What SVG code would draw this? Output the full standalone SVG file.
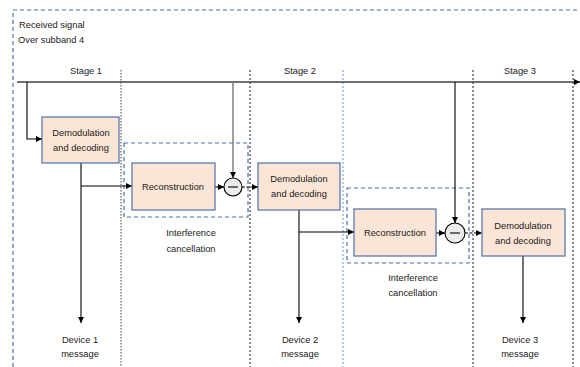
<svg xmlns="http://www.w3.org/2000/svg" width="580" height="367" viewBox="0 0 580 367">
<defs>
<marker id="ah" viewBox="0 0 10 10" refX="10" refY="5" markerWidth="6" markerHeight="6" markerUnits="userSpaceOnUse" orient="auto">
<path d="M0,0 L10,5 L0,10 z" fill="#000"/>
</marker>
<marker id="ahg" viewBox="0 0 10 10" refX="10" refY="5" markerWidth="6" markerHeight="6" markerUnits="userSpaceOnUse" orient="auto">
<path d="M0,0 L10,5 L0,10 z" fill="#000"/>
</marker>
</defs>
<style>
text{font-family:"Liberation Sans",Arial,sans-serif;font-size:9.3px;fill:#1a1a1a;}
.c{text-anchor:middle;}
.box{fill:#fbe5d6;stroke:#4f6fa8;stroke-width:1.2;}
.dbox{fill:none;stroke:#4f6fa8;stroke-width:1.2;stroke-dasharray:4,3;}
.vdot{stroke:#000;stroke-width:0.9;stroke-dasharray:2,2;fill:none;}
.vgray{stroke:#777;stroke-width:1.4;stroke-dasharray:1.5,1.5;fill:none;}
.vblue{stroke:#6f8fc4;stroke-width:1;stroke-dasharray:2,2;fill:none;}
.ln{stroke:#000;stroke-width:1.1;fill:none;}
.minus{fill:#ececec;stroke:#000;stroke-width:1.1;}
</style>
<rect width="580" height="367" fill="#fff"/>
<g id="frame">
<path d="M13,367 L13,10 L580,10" class="dbox"/>
</g>
<g id="labels">
<text x="19" y="28">Received signal</text>
<text x="18" y="43">Over subband 4</text>
<text class="c" x="86" y="74">Stage 1</text>
<text class="c" x="300" y="74">Stage 2</text>
<text class="c" x="520" y="74">Stage 3</text>
</g>
<g id="stage-lines">
<line x1="121" y1="70" x2="121" y2="367" class="vgray"/>
<line x1="250" y1="70" x2="250" y2="367" class="vdot"/>
<line x1="343" y1="70" x2="343" y2="367" class="vblue"/>
<line x1="473" y1="70" x2="473" y2="367" class="vdot"/>
<line x1="573" y1="70" x2="573" y2="367" class="vdot"/>
</g>
<g id="ic1">
<rect x="124" y="143" width="124" height="74" class="dbox"/>
<text class="c" x="191" y="236">Interference</text>
<text class="c" x="191" y="252">cancellation</text>
</g>
<g id="ic2">
<rect x="347" y="188" width="122" height="75" class="dbox"/>
<text class="c" x="413" y="281">Interference</text>
<text class="c" x="413" y="296">cancellation</text>
</g>
<g id="connectors">
<line x1="17" y1="82" x2="580" y2="82" stroke="#404040" stroke-width="1.6" marker-end="url(#ah)"/>
<path d="M27,82 L27,139 L42,139" class="ln" marker-end="url(#ah)"/>
<line x1="81" y1="163" x2="81" y2="323" class="ln" marker-end="url(#ah)"/>
<path d="M81,186 L132,186" class="ln" marker-end="url(#ah)"/>
<line x1="215" y1="187" x2="224" y2="187" class="ln" marker-end="url(#ah)"/>
<line x1="233" y1="82" x2="233" y2="178" stroke="#777" stroke-width="1.4" marker-end="url(#ahg)"/>
<line x1="242" y1="187" x2="258" y2="187" class="ln" stroke-dasharray="3,1.5" marker-end="url(#ah)"/>
<line x1="299" y1="210" x2="299" y2="323" class="ln" marker-end="url(#ah)"/>
<path d="M299,232 L354,232" class="ln" marker-end="url(#ah)"/>
<line x1="436" y1="233" x2="445" y2="233" class="ln" marker-end="url(#ah)"/>
<line x1="455" y1="82" x2="455" y2="223" class="ln" marker-end="url(#ah)"/>
<line x1="465" y1="233" x2="482" y2="233" class="ln" stroke-dasharray="3,1.5" marker-end="url(#ah)"/>
<line x1="523" y1="256" x2="523" y2="323" class="ln" marker-end="url(#ah)"/>
</g>
<g id="demod1">
<rect x="42" y="117" width="77" height="46" class="box"/>
<text class="c" x="81" y="136">Demodulation</text>
<text class="c" x="81" y="151">and decoding</text>
</g>
<g id="recon1">
<rect x="132" y="163" width="83" height="47" class="box"/>
<text class="c" x="173" y="190">Reconstruction</text>
</g>
<g id="sub1">
<circle cx="233" cy="187" r="9" class="minus"/>
<line x1="228" y1="187" x2="238" y2="187" stroke="#000" stroke-width="1.1"/>
</g>
<g id="demod2">
<rect x="258" y="163" width="82" height="47" class="box"/>
<text class="c" x="299" y="182">Demodulation</text>
<text class="c" x="299" y="197">and decoding</text>
</g>
<g id="recon2">
<rect x="354" y="209" width="82" height="47" class="box"/>
<text class="c" x="395" y="236">Reconstruction</text>
</g>
<g id="sub2">
<circle cx="455" cy="233" r="10" class="minus"/>
<line x1="450" y1="233" x2="460" y2="233" stroke="#000" stroke-width="1.1"/>
</g>
<g id="demod3">
<rect x="482" y="209" width="83" height="47" class="box"/>
<text class="c" x="523" y="229">Demodulation</text>
<text class="c" x="523" y="244">and decoding</text>
</g>
<g id="out1"><text class="c" x="80" y="343">Device 1</text><text class="c" x="80" y="357">message</text></g>
<g id="out2"><text class="c" x="300" y="343">Device 2</text><text class="c" x="300" y="357">message</text></g>
<g id="out3"><text class="c" x="520" y="343">Device 3</text><text class="c" x="520" y="357">message</text></g>
</svg>
